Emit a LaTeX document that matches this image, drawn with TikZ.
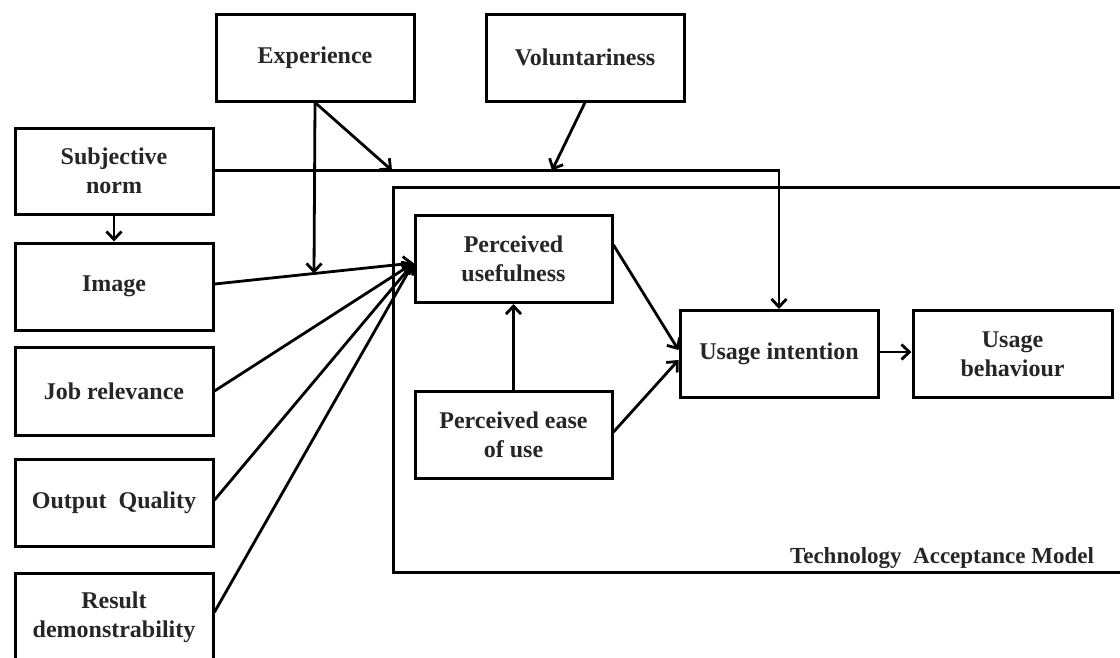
\documentclass[tikz,border=0pt]{standalone}
\usepackage{fontspec}
\setmainfont{Liberation Serif}
\usetikzlibrary{arrows.meta,calc}
\begin{document}
\begin{tikzpicture}[x=1pt,y=-1pt,
  box/.style={draw=black,line width=3pt,rectangle,minimum width=198pt,minimum height=87pt,
    align=center,inner sep=2pt,font=\fontsize{24}{29}\selectfont\bfseries,text=black!85},
  conn/.style={line width=2.8pt,line cap=round},
  arr/.style={conn,-{Straight Barb[length=8pt,width=15pt]}}]
\clip (0,0) rectangle (1120,657);
\fill[white] (0,0) rectangle (1120,657);
% TAM frame
\draw[line width=3pt] (1140,187) -- (393,187) -- (393,572) -- (1140,572);
\node[font=\fontsize{23}{28}\selectfont\bfseries,text=black!85] (tamlbl) at (942,558) {Technology\ \ Acceptance Model};
% nodes
\node[box] (exp) at (315,57.5) {Experience};
\node[box] (vol) at (585,57.5) {Voluntariness};
\node[box,minimum height=86pt] (sn) at (114,171) {Subjective\\norm};
\node[box] (img) at (114,286.5) {Image};
\node[box,minimum height=88pt] (job) at (114,391) {Job relevance};
\node[box] (out) at (114,502.5) {Output\ \ Quality};
\node[box,minimum height=88pt] (res) at (114,617) {Result\\demonstrability};
\node[box,minimum width=197pt] (pu) at (513.5,259) {Perceived\\usefulness};
\node[box,minimum width=197pt] (peu) at (513.5,435) {Perceived ease\\of use};
\node[box] (ui) at (779,354) {Usage intention};
\node[box,minimum width=199pt] (ub) at (1012.5,354) {Usage\\behaviour};
% helper coordinates
\coordinate (puin) at ([yshift=-4pt]pu.west);
\coordinate (imgout) at ([yshift=2.5pt]img.east);
\coordinate (ex1) at ($(imgout)!0.5!(puin)$);
\coordinate (ex2) at (392,170.5);
\coordinate (vo1) at (552,170.5);
% connectors
\draw[arr] ([yshift=0.5pt]sn.east) -| (ui.north);
\draw[arr] (sn.south) -- (img.north);
\draw[arr] (exp.south) -- (ex1);
\draw[arr] (exp.south) -- (ex2);
\draw[arr] (vol.south) -- (vo1);
\draw[arr] (imgout) -- (puin);
\draw[arr] (job.east) -- (puin);
\draw[arr] ([yshift=2.5pt]out.east) -- (puin);
\draw[arr] ([yshift=5pt]res.east) -- (puin);
\draw[arr] (peu.north) -- (pu.south);
\draw[arr] ([yshift=14pt]pu.east) -- ([yshift=4pt]ui.west);
\draw[arr] ([yshift=3pt]peu.east) -- ([yshift=-6pt]ui.west);
\draw[arr] ([yshift=2pt]ui.east) -- ([yshift=2pt]ub.west);
\end{tikzpicture}
\end{document}
